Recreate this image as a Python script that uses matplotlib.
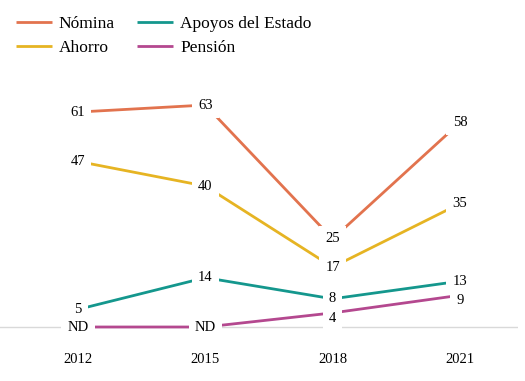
import matplotlib
matplotlib.use('Agg')
import matplotlib.pyplot as plt

### data
years = [2012, 2015, 2018, 2021]
series_names = ['Nómina', 'Ahorro', 'Apoyos del Estado', 'Pensión']
nomina = [61, 63, 25, 58]
ahorro = [47, 40, 17, 35]
apoyos = [5, 14, 8, 13]
pension = [0, 0, 4, 9]          # ND plotted at the baseline
pension_labels = ['ND', 'ND', '4', '9']
colors = ['#E2734E', '#E6B423', '#14978D', '#B4488F']

plt.rcParams['font.family'] = ['Liberation Serif', 'DejaVu Serif']

fig = plt.figure(figsize=(5.25, 3.81), dpi=100)
ax = fig.add_axes([0, 46 / 381, 518 / 525, 255 / 381])

all_values = [nomina, ahorro, apoyos, pension]
all_labels = [[str(v) for v in nomina], [str(v) for v in ahorro],
              [str(v) for v in apoyos], pension_labels]

ax.axhline(0, color='#d9d9d9', lw=1, zorder=1)

for i, (name, vals, labs, col) in enumerate(zip(series_names, all_values, all_labels, colors)):
    ax.plot(years, vals, color=col, lw=2, label=name, zorder=2,
            solid_capstyle='butt', clip_on=False)
    for x, y, t in zip(years, vals, labs):
        # pension numbers sit a little lower so they don't crowd Apoyos
        dy = -4 if (i == 3 and t != 'ND') else 0
        # white box first (hides the line ends), then the text on top
        ax.annotate(t, (x, y), xytext=(0, dy), textcoords='offset points',
                    ha='center', va='center', fontsize=10.5, color='white', zorder=3,
                    bbox=dict(boxstyle='square,pad=0.42', fc='white', ec='none'))
        ax.annotate(t, (x, y), xytext=(0, dy), textcoords='offset points',
                    ha='center', va='center', fontsize=10.5, color='black', zorder=4)

ax.set_xlim(2010.16, 2022.37)
ax.set_ylim(-2.27, 70.1)
ax.set_xticks(years)
ax.set_xticklabels([str(y) for y in years], fontsize=10.5)
ax.tick_params(axis='x', length=0, pad=12.7)
ax.set_yticks([])
for s in ax.spines.values():
    s.set_visible(False)

fig.legend(loc='upper left', bbox_to_anchor=(0.0, 1.0), ncol=2,
           frameon=False, fontsize=12.5, handlelength=2.07, handletextpad=0.4,
           columnspacing=1.3, labelspacing=0.45)

plt.savefig('out.png', dpi=100)
